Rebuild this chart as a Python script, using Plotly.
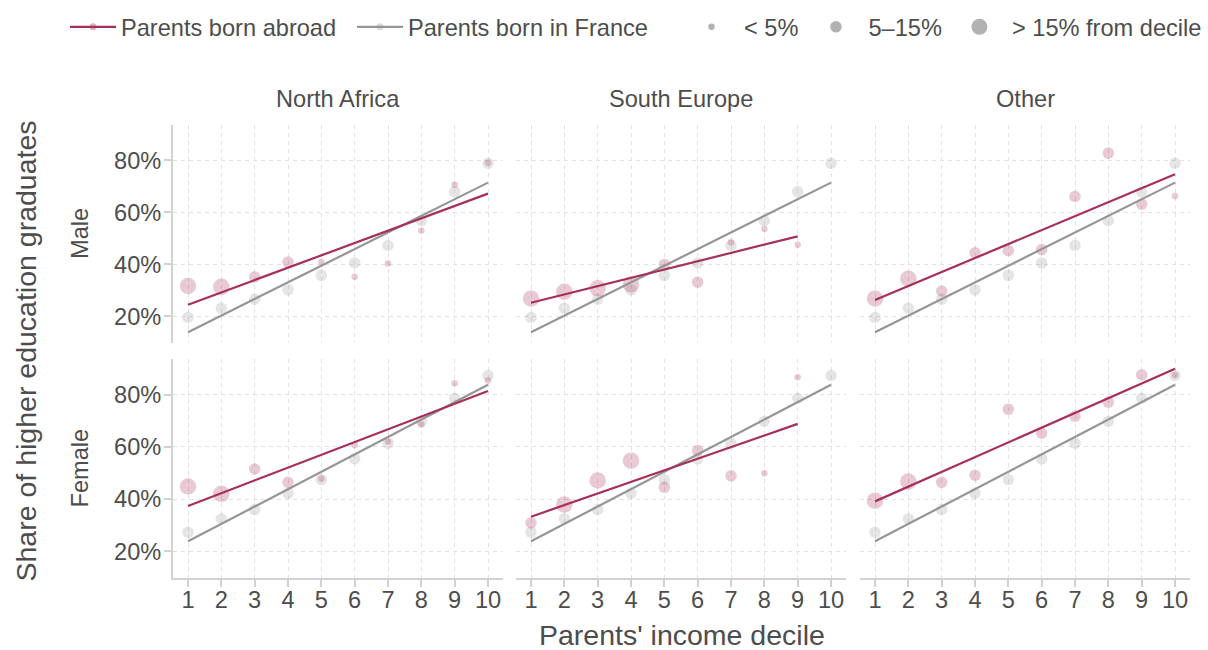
import numpy as np
import plotly.graph_objects as go

# ---------------------------------------------------------------- data
deciles = list(range(1, 11))
regions = ["North Africa", "South Europe", "Other"]
sexes = ["Male", "Female"]
size_labels = ["< 5%", "5–15%", "> 15% from decile"]
y_tickvals = [20, 40, 60, 80]
y_ticktext = ["20%", "40%", "60%", "80%"]

# share of higher-education graduates (%), parents born in France
france_male = [19.6, 23.2, 26.6, 30.2, 35.8, 40.6, 47.3, 56.8, 68.0, 78.9]
france_female = [27.3, 32.4, 36.0, 42.2, 47.4, 55.4, 61.4, 69.8, 78.6, 87.3]

# parents born abroad, by origin region (None = not reported)
abroad_male_north_africa = [31.7, 31.4, 35.2, 40.9, 41.0, 35.3, 40.4, 53.0, 70.6, 79.1]
abroad_male_south_europe = [26.9, 29.5, 30.8, 32.3, 40.0, 33.2, 48.5, 53.6, 47.6, None]
abroad_male_other = [26.9, 34.5, 29.8, 44.5, 45.3, 45.7, 66.1, 82.8, 63.2, 66.3]
abroad_female_north_africa = [44.8, 42.0, 51.5, 46.4, 47.9, 60.7, 62.0, 68.5, 84.3, 85.4]
abroad_female_south_europe = [30.9, 37.9, 47.1, 54.7, 44.5, 58.6, 48.9, 49.9, 86.6, None]
abroad_female_other = [39.4, 46.7, 46.4, 49.1, 74.4, 65.2, 71.7, 77.1, 87.5, 87.5]

# share of the decile that the group represents: 0 = <5%, 1 = 5-15%, 2 = >15%
share_male_north_africa = [2, 2, 1, 1, 0, 0, 0, 0, 0, 0]
share_male_south_europe = [2, 2, 2, 2, 1, 1, 0, 0, 0, None]
share_male_other = [2, 2, 1, 1, 1, 1, 1, 1, 1, 0]
share_female_north_africa = [2, 2, 1, 1, 0, 0, 0, 0, 0, 0]
share_female_south_europe = [1, 2, 2, 2, 1, 1, 1, 0, 0, None]
share_female_other = [2, 2, 1, 1, 1, 1, 1, 1, 1, 0]
share_france = [1] * 10

france = {"Male": france_male, "Female": france_female}
abroad = {
    ("Male", "North Africa"): (abroad_male_north_africa, share_male_north_africa),
    ("Male", "South Europe"): (abroad_male_south_europe, share_male_south_europe),
    ("Male", "Other"): (abroad_male_other, share_male_other),
    ("Female", "North Africa"): (abroad_female_north_africa, share_female_north_africa),
    ("Female", "South Europe"): (abroad_female_south_europe, share_female_south_europe),
    ("Female", "Other"): (abroad_female_other, share_female_other),
}

# ---------------------------------------------------------------- style
W, H = 1208, 650
FONT = "Liberation Sans"
TXT = "#4d4d4d"
ABROAD_LINE = "rgb(166,48,86)"
ABROAD_PT = "rgba(172,52,92,0.38)"
FRANCE_LINE = "rgb(150,150,150)"
FRANCE_PT = "rgba(150,150,150,0.35)"
AXIS_C = "#d2d2d2"
GRID_C = "#e2e2e2"
SIZE_PX = [6.5, 11.5, 16.5]
SMALL = 23.6
BIG = 28.5

col_px = [(173, 503), (516, 846), (860, 1190)]
row_px = [(125, 343), (359, 578)]


def fx(p):
    return p / W


def fy(p):
    return 1 - p / H


def fit_line(xs, ys):
    pts = [(x, y) for x, y in zip(xs, ys) if y is not None]
    px_ = np.array([p[0] for p in pts], float)
    py_ = np.array([p[1] for p in pts], float)
    slope, icpt = np.polyfit(px_, py_, 1)
    xl = [px_.min(), px_.max()]
    return xl, [icpt + slope * v for v in xl]


def points(xs, ys, sizes):
    keep = [i for i, y in enumerate(ys) if y is not None]
    return ([xs[i] for i in keep], [ys[i] for i in keep],
            [SIZE_PX[sizes[i]] for i in keep])


fig = go.Figure()

for r, sex in enumerate(sexes):
    for c, reg in enumerate(regions):
        k = r * 3 + c + 1
        xa = "x" if k == 1 else f"x{k}"
        ya = "y" if k == 1 else f"y{k}"

        fx_, fy_, fs_ = points(deciles, france[sex], share_france)
        fig.add_trace(go.Scatter(
            x=fx_, y=fy_, mode="markers", xaxis=xa, yaxis=ya,
            marker=dict(size=fs_, color=FRANCE_PT, line=dict(width=0)),
            showlegend=False, hoverinfo="skip"))

        vals, shares = abroad[(sex, reg)]
        ax_, ay_, as_ = points(deciles, vals, shares)
        fig.add_trace(go.Scatter(
            x=ax_, y=ay_, mode="markers", xaxis=xa, yaxis=ya,
            marker=dict(size=as_, color=ABROAD_PT, line=dict(width=0)),
            showlegend=False, hoverinfo="skip"))

        lx, ly = fit_line(deciles, france[sex])
        fig.add_trace(go.Scatter(
            x=lx, y=ly, mode="lines", xaxis=xa, yaxis=ya,
            line=dict(color=FRANCE_LINE, width=2.2),
            showlegend=False, hoverinfo="skip"))

        lx, ly = fit_line(deciles, vals)
        fig.add_trace(go.Scatter(
            x=lx, y=ly, mode="lines", xaxis=xa, yaxis=ya,
            line=dict(color=ABROAD_LINE, width=2.2),
            showlegend=False, hoverinfo="skip"))

# legend entries: colour key (one legend box per entry for spacing)
fig.add_trace(go.Scatter(
    x=[None], y=[None], mode="lines+markers", name="Parents born abroad",
    line=dict(color=ABROAD_LINE, width=2.2),
    marker=dict(size=7, color=ABROAD_PT), legend="legend"))
fig.add_trace(go.Scatter(
    x=[None], y=[None], mode="lines+markers", name="Parents born in France",
    line=dict(color=FRANCE_LINE, width=2.2),
    marker=dict(size=7, color=FRANCE_PT), legend="legend3"))
# legend entries: size key
for lab, s in zip(size_labels, SIZE_PX):
    fig.add_trace(go.Scatter(
        x=[None], y=[None], mode="markers", name=lab,
        marker=dict(size=s, color="rgb(178,178,178)"), legend="legend2"))

key_legend = dict(orientation="h", xanchor="left", y=fy(27), yanchor="middle",
                  font=dict(size=SMALL, color=TXT),
                  bgcolor="rgba(0,0,0,0)", traceorder="normal")

layout = dict(
    width=W, height=H,
    margin=dict(l=0, r=0, t=0, b=0, autoexpand=False),
    paper_bgcolor="white", plot_bgcolor="white",
    font=dict(family=FONT, size=SMALL, color=TXT),
    showlegend=True,
    legend=dict(key_legend, x=fx(65), itemwidth=46),
    legend3=dict(key_legend, x=fx(352), itemwidth=46),
    legend2=dict(key_legend, x=fx(679), itemwidth=55),
)

for r in range(2):
    for c in range(3):
        k = r * 3 + c + 1
        xk = "xaxis" if k == 1 else f"xaxis{k}"
        yk = "yaxis" if k == 1 else f"yaxis{k}"
        bottom = r == 1
        left = c == 0
        layout[xk] = dict(
            domain=[fx(col_px[c][0]), fx(col_px[c][1])],
            anchor="y" if k == 1 else f"y{k}",
            range=[0.55, 10.45], tickmode="array", tickvals=deciles,
            ticktext=[str(d) for d in deciles],
            showgrid=True, gridcolor=GRID_C, griddash="4px,4px", gridwidth=1,
            zeroline=False, automargin=False,
            showline=bottom, linecolor=AXIS_C, linewidth=2,
            ticks="outside" if bottom else "", ticklen=7, tickwidth=1.5,
            tickcolor=AXIS_C, showticklabels=bottom, ticklabelstandoff=-7,
            tickfont=dict(size=SMALL, color=TXT, family=FONT),
        )
        layout[yk] = dict(
            domain=[fy(row_px[r][1]), fy(row_px[r][0])],
            anchor="x" if k == 1 else f"x{k}",
            range=[9.8, 93.6], tickmode="array", tickvals=y_tickvals,
            ticktext=y_ticktext,
            showgrid=True, gridcolor=GRID_C, griddash="4px,4px", gridwidth=1,
            zeroline=False, automargin=False,
            showline=left, linecolor=AXIS_C, linewidth=2,
            ticks="outside" if left else "", ticklen=7, tickwidth=1.5,
            tickcolor=AXIS_C, showticklabels=left, ticklabelstandoff=-2,
            tickfont=dict(size=SMALL, color=TXT, family=FONT),
        )

ann = []
for c, reg in enumerate(regions):
    ann.append(dict(text=reg, x=fx((col_px[c][0] + col_px[c][1]) / 2), y=fy(99),
                    xref="paper", yref="paper", showarrow=False,
                    xanchor="center", yanchor="middle",
                    font=dict(size=SMALL, color=TXT)))
for r, sex in enumerate(sexes):
    ann.append(dict(text=sex, x=fx(80), y=fy((row_px[r][0] + row_px[r][1]) / 2),
                    xref="paper", yref="paper", showarrow=False, textangle=-90,
                    xanchor="center", yanchor="middle",
                    font=dict(size=SMALL, color=TXT)))
ann.append(dict(text="Share of higher education graduates", x=fx(25),
                y=fy((row_px[0][0] + row_px[1][1]) / 2),
                xref="paper", yref="paper", showarrow=False, textangle=-90,
                xanchor="center", yanchor="middle",
                font=dict(size=BIG, color=TXT)))
ann.append(dict(text="Parents' income decile",
                x=fx((col_px[0][0] + col_px[2][1]) / 2), y=fy(635),
                xref="paper", yref="paper", showarrow=False,
                xanchor="center", yanchor="middle",
                font=dict(size=BIG, color=TXT)))
layout["annotations"] = ann

fig.update_layout(**layout)
fig.write_html("out.html")
